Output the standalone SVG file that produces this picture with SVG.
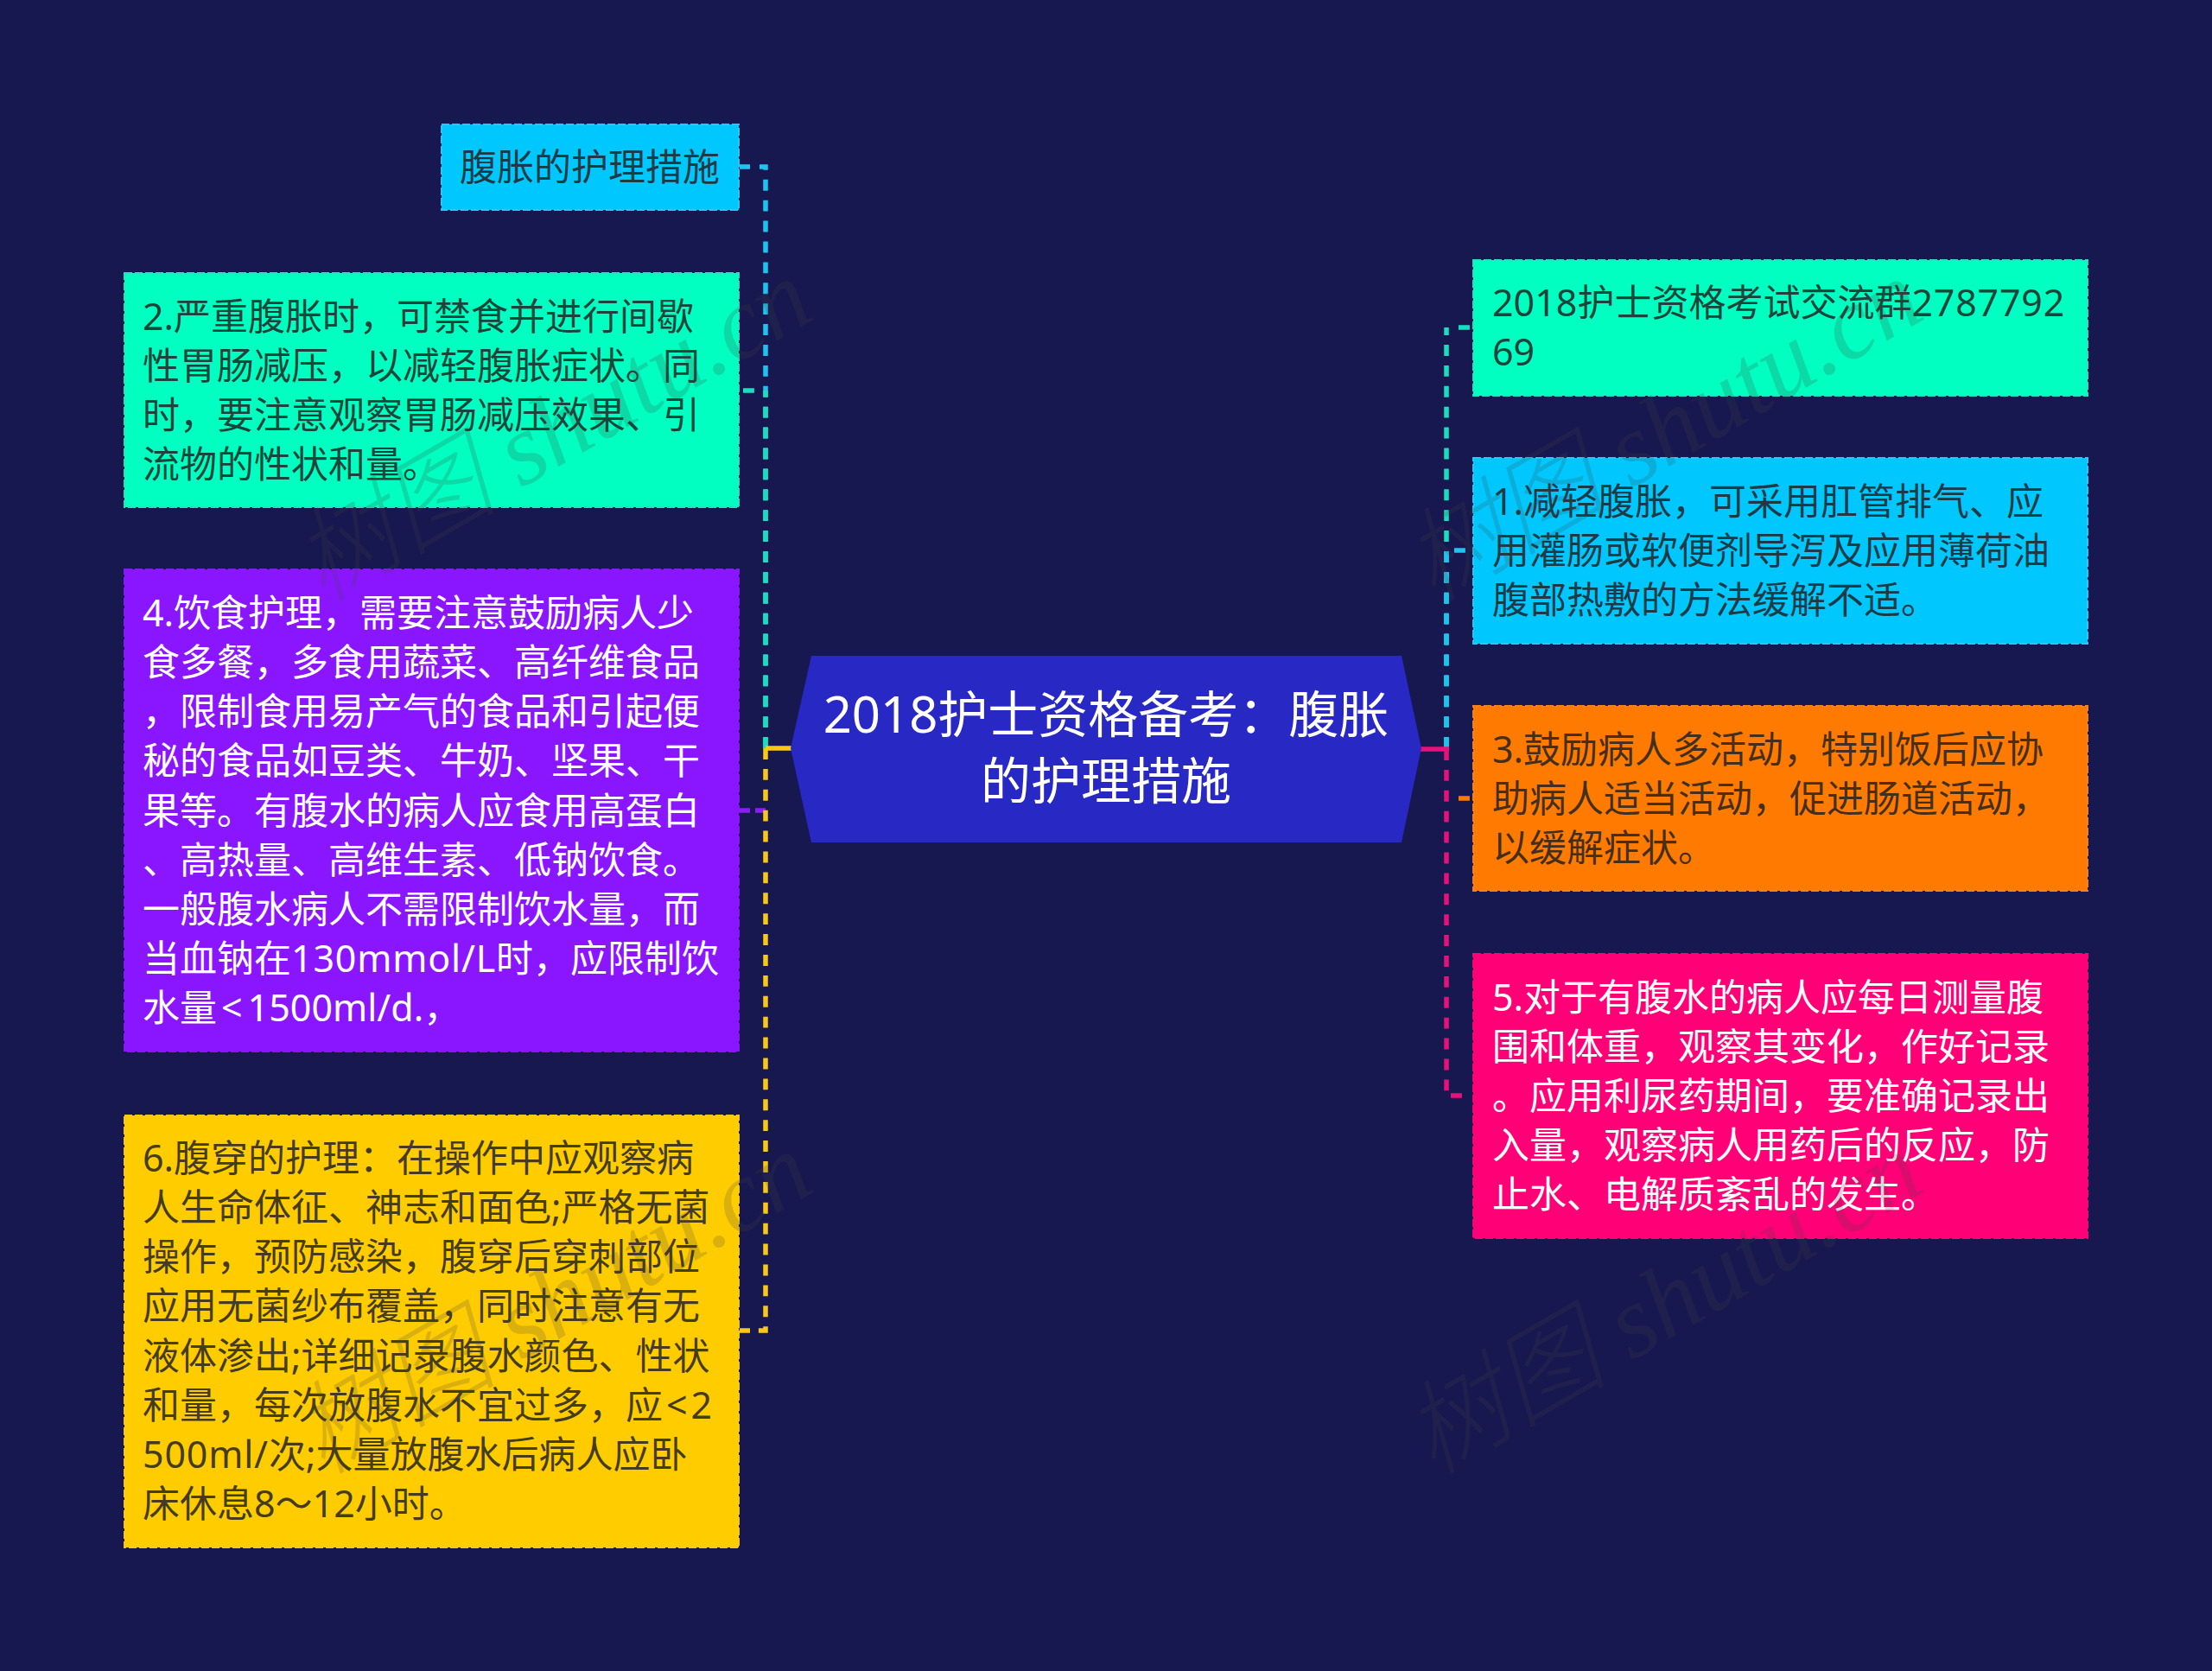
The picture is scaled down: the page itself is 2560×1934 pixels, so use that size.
<svg xmlns="http://www.w3.org/2000/svg" width="2560" height="1934" viewBox="0 0 2560 1934">
<style>
text{font-family:"Noto Sans","Noto Sans CJK SC",sans-serif;font-size:43px}
.d{fill:#222;fill-opacity:.85}.w{fill:#fff}
.box{stroke-width:2;stroke-dasharray:9 3}
.l{fill:none;stroke-width:5.5;stroke-dasharray:12.9 11}
.s{fill:none;stroke-width:5.5}
.c{font-size:58px}
.t{letter-spacing:.8px}
.wm{font-family:"Liberation Serif","Noto Sans CJK SC",serif;font-style:italic;font-weight:200;font-size:118px;fill:#444;opacity:.2}
</style>
<rect width="2560" height="1934" fill="#181850"/>
<g id="connectors">
<path class="l" stroke="#1cc4f0" d="M886 866V193H879M856 193H868"/>
<path class="l" stroke="#17dfc0" d="M886 866V452M860 452H873"/>
<path class="l" stroke="#8a1cf5" d="M886 938H874M868 938H856"/>
<path class="l" stroke="#f7c818" d="M886 866V1540H874M868 1540H856"/>
<path class="s" stroke="#f7c818" d="M886 866H916"/>
<path class="l" stroke="#17dfc0" d="M1674 866V379M1688 379H1701"/>
<path class="l" stroke="#1cc4f0" d="M1674 866V637M1683 637H1696"/>
<path class="l" stroke="#e8107a" d="M1674 867V1268M1679 1268H1692"/>
<path class="l" stroke="#ff7a00" d="M1688 924H1701"/>
<path class="s" stroke="#e8107a" d="M1642 867H1677"/>
</g>
<g id="center"><polygon points="939,759 1622,759 1645,866 1622,975 939,975 915,866" fill="#2828c4"/>
<text class="w c" x="1280" y="848" text-anchor="middle">2018护士资格备考：腹胀</text>
<text class="w c" x="1280" y="925" text-anchor="middle">的护理措施</text></g>
<g id="n0"><rect class="box" x="511" y="144" width="344" height="99" fill="#00c8ff" stroke="#2ac8f0"/>
<text class="d" x="532" y="209">腹胀的护理措施</text></g>
<g id="n2"><rect class="box" x="144" y="316" width="711" height="271" fill="#00ffc0" stroke="#2ae0c0"/>
<text class="d" x="165" y="382">2.严重腹胀时，可禁食并进行间歇</text>
<text class="d" x="165" y="439">性胃肠减压，以减轻腹胀症状。同</text>
<text class="d" x="165" y="496">时，要注意观察胃肠减压效果、引</text>
<text class="d" x="165" y="553">流物的性状和量。</text></g>
<g id="n4"><rect class="box" x="144" y="659" width="711" height="558" fill="#8a16ff" stroke="#8a16ff"/>
<text class="w" x="165" y="725">4.饮食护理，需要注意鼓励病人少</text>
<text class="w" x="165" y="782">食多餐，多食用蔬菜、高纤维食品</text>
<text class="w" x="165" y="839">，限制食用易产气的食品和引起便</text>
<text class="w" x="165" y="896">秘的食品如豆类、牛奶、坚果、干</text>
<text class="w" x="165" y="954">果等。有腹水的病人应食用高蛋白</text>
<text class="w" x="165" y="1011">、高热量、高维生素、低钠饮食。</text>
<text class="w" x="165" y="1068">一般腹水病人不需限制饮水量，而</text>
<text class="w" x="165" y="1125">当血钠在<tspan class="t">130mmol/L</tspan>时，应限制饮</text>
<text class="w" x="165" y="1182">水量<tspan dx="5">&lt;</tspan><tspan dx="6">1500ml/d.，</tspan></text></g>
<g id="n6"><rect class="box" x="144" y="1291" width="711" height="500" fill="#ffcc00" stroke="#f7c818"/>
<text class="d" x="165" y="1356">6.腹穿的护理：在操作中应观察病</text>
<text class="d" x="165" y="1413">人生命体征、神志和面色;严格无菌</text>
<text class="d" x="165" y="1470">操作，预防感染，腹穿后穿刺部位</text>
<text class="d" x="165" y="1527">应用无菌纱布覆盖，同时注意有无</text>
<text class="d" x="165" y="1585">液体渗出;详细记录腹水颜色、性状</text>
<text class="d" x="165" y="1642">和量，每次放腹水不宜过多，应<tspan dx="4">&lt;</tspan><tspan dx="4">2</tspan></text>
<text class="d" x="165" y="1699"><tspan class="t">500ml/</tspan>次;大量放腹水后病人应卧</text>
<text class="d" x="165" y="1756">床休息8～12小时。</text></g>
<g id="n1"><rect class="box" x="1705" y="301" width="711" height="157" fill="#00ffc0" stroke="#2ae0c0"/>
<text class="d" x="1727" y="366">2018护士资格考试交流群<tspan class="t">2787792</tspan></text>
<text class="d" x="1727" y="423">69</text></g>
<g id="n3"><rect class="box" x="1705" y="530" width="711" height="215" fill="#00c8ff" stroke="#2ac8f0"/>
<text class="d" x="1727" y="596">1.减轻腹胀，可采用肛管排气、应</text>
<text class="d" x="1727" y="653">用灌肠或软便剂导泻及应用薄荷油</text>
<text class="d" x="1727" y="710">腹部热敷的方法缓解不适。</text></g>
<g id="n5"><rect class="box" x="1705" y="817" width="711" height="214" fill="#ff7a00" stroke="#f58020"/>
<text class="d" x="1727" y="883">3.鼓励病人多活动，特别饭后应协</text>
<text class="d" x="1727" y="940">助病人适当活动，促进肠道活动，</text>
<text class="d" x="1727" y="997">以缓解症状。</text></g>
<g id="n7"><rect class="box" x="1705" y="1104" width="711" height="329" fill="#ff0077" stroke="#ff0077"/>
<text class="w" x="1727" y="1170">5.对于有腹水的病人应每日测量腹</text>
<text class="w" x="1727" y="1227">围和体重，观察其变化，作好记录</text>
<text class="w" x="1727" y="1284">。应用利尿药期间，要准确记录出</text>
<text class="w" x="1727" y="1341">入量，观察病人用药后的反应，防</text>
<text class="w" x="1727" y="1398">止水、电解质紊乱的发生。</text></g>
<g id="watermarks">
<text class="wm" transform="translate(373 698) rotate(-30)">树图 shutu.cn</text>
<text class="wm" transform="translate(373 1708) rotate(-30)">树图 shutu.cn</text>
<text class="wm" transform="translate(1658 698) rotate(-30)">树图 shutu.cn</text>
<text class="wm" transform="translate(1658 1708) rotate(-30)">树图 shutu.cn</text>
</g>
</svg>
